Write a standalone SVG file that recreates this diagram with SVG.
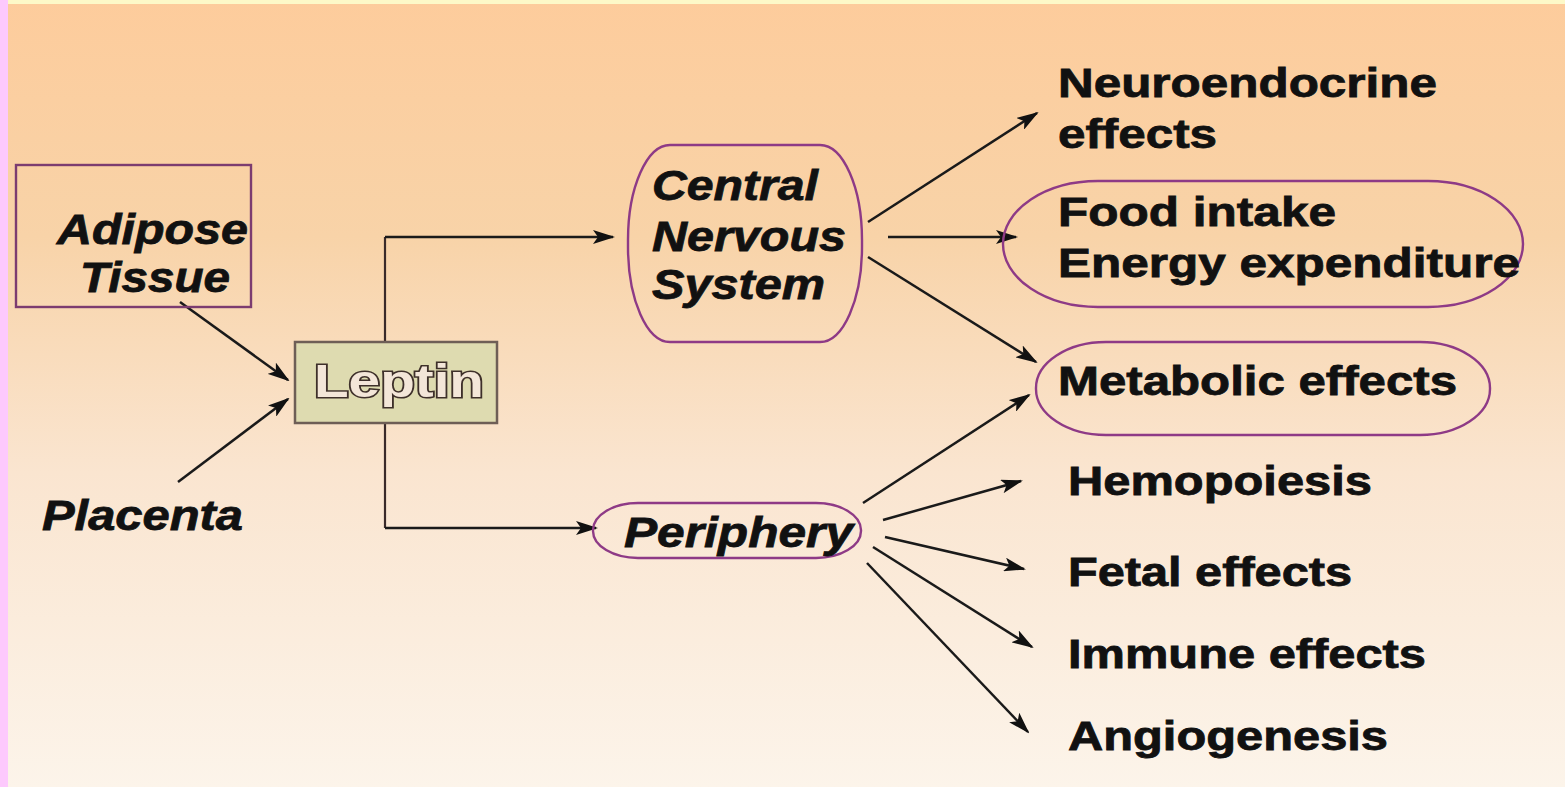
<svg xmlns="http://www.w3.org/2000/svg" width="1565" height="787" viewBox="0 0 1565 787">
<defs>
<linearGradient id="bg" x1="0" y1="0" x2="0" y2="1">
<stop offset="0" stop-color="#fdcc9c"/>
<stop offset="0.3" stop-color="#f8d3a8"/>
<stop offset="0.6" stop-color="#fae5d0"/>
<stop offset="1" stop-color="#fcf4ea"/>
</linearGradient>
<marker id="ah" markerWidth="22" markerHeight="14" refX="20" refY="7" orient="auto" markerUnits="userSpaceOnUse">
<path d="M0,0 L22,7 L0,14 L5,7 Z" fill="#111"/>
</marker>
<style>
.edge{stroke:#1a1a1a;stroke-width:2.5;fill:none;marker-end:url(#ah)}
.line{stroke:#3a2a2a;stroke-width:2.2;fill:none}
.shape{fill:none;stroke:#8e3a86;stroke-width:2.4}
.it{font-family:"Liberation Sans",Arial,sans-serif;font-weight:bold;font-style:italic;fill:#111;stroke:#111;stroke-width:0.8;font-size:42px}
.rt{font-family:"Liberation Sans",Arial,sans-serif;font-weight:bold;fill:#111;stroke:#111;stroke-width:0.8;font-size:40px}
.lep{font-family:"Liberation Sans",Arial,sans-serif;font-weight:bold;fill:#f3e6d8;stroke:#3e302a;stroke-width:3;paint-order:stroke;font-size:46px}
</style>
</defs>
<rect x="0" y="0" width="1565" height="787" fill="url(#bg)"/>
<rect x="0" y="0" width="1565" height="4" fill="#fdf9c8"/>
<rect x="0" y="0" width="8" height="787" fill="#fdc9fd"/>

<g id="connectors">
<path class="edge" d="M180,302 L288,380"/>
<path class="edge" d="M178,482 L288,399"/>
<path class="line" d="M385,341 L385,237"/>
<path class="edge" d="M385,237 L613,237"/>
<path class="line" d="M385,423 L385,528"/>
<path class="edge" d="M385,528 L596,528"/>
<path class="edge" d="M868,222 L1037,113"/>
<path class="edge" d="M888,237 L1016,237"/>
<path class="edge" d="M868,257 L1036,362"/>
<path class="edge" d="M863,503 L1029,395"/>
<path class="edge" d="M883,520 L1021,481"/>
<path class="edge" d="M885,537 L1024,569"/>
<path class="edge" d="M873,547 L1032,647"/>
<path class="edge" d="M867,563 L1028,732"/>
</g>

<g id="adipose">
<rect x="16" y="165" width="235" height="142" fill="none" stroke="#7c3c70" stroke-width="2.4"/>
<text class="it" x="57" y="244" textLength="191" lengthAdjust="spacingAndGlyphs">Adipose</text>
<text class="it" x="80" y="292" textLength="150" lengthAdjust="spacingAndGlyphs">Tissue</text>
</g>

<g id="placenta">
<text class="it" x="42" y="530" textLength="201" lengthAdjust="spacingAndGlyphs">Placenta</text>
</g>

<g id="leptin">
<rect x="295" y="342" width="202" height="81" fill="#dedbb0" stroke="#6e5e56" stroke-width="2.5"/>
<text class="lep" x="314" y="397" textLength="170" lengthAdjust="spacingAndGlyphs">Leptin</text>
</g>

<g id="cns">
<rect x="628" y="145" width="234" height="197" rx="42" ry="95" class="shape"/>
<text class="it" x="652" y="200" textLength="166" lengthAdjust="spacingAndGlyphs">Central</text>
<text class="it" x="652" y="251" textLength="194" lengthAdjust="spacingAndGlyphs">Nervous</text>
<text class="it" x="652" y="299" textLength="173" lengthAdjust="spacingAndGlyphs">System</text>
</g>

<g id="periphery">
<rect x="593" y="503" width="268" height="55" rx="45" ry="27" class="shape"/>
<text class="it" x="624" y="547" textLength="229" lengthAdjust="spacingAndGlyphs">Periphery</text>
</g>

<g id="neuroendocrine">
<text class="rt" x="1058" y="97" textLength="379" lengthAdjust="spacingAndGlyphs">Neuroendocrine</text>
<text class="rt" x="1058" y="148" textLength="159" lengthAdjust="spacingAndGlyphs">effects</text>
</g>

<g id="food">
<rect x="1003" y="181" width="520" height="126" rx="95" ry="63" class="shape"/>
<text class="rt" x="1058" y="226" textLength="278" lengthAdjust="spacingAndGlyphs">Food intake</text>
<text class="rt" x="1058" y="277" textLength="462" lengthAdjust="spacingAndGlyphs">Energy expenditure</text>
</g>

<g id="metabolic">
<rect x="1036" y="342" width="454" height="93" rx="70" ry="46" class="shape"/>
<text class="rt" x="1058" y="395" textLength="399" lengthAdjust="spacingAndGlyphs">Metabolic effects</text>
</g>

<g id="hemopoiesis">
<text class="rt" x="1068" y="495" textLength="304" lengthAdjust="spacingAndGlyphs">Hemopoiesis</text>
</g>
<g id="fetal">
<text class="rt" x="1068" y="586" textLength="284" lengthAdjust="spacingAndGlyphs">Fetal effects</text>
</g>
<g id="immune">
<text class="rt" x="1068" y="668" textLength="358" lengthAdjust="spacingAndGlyphs">Immune effects</text>
</g>
<g id="angiogenesis">
<text class="rt" x="1068" y="750" textLength="320" lengthAdjust="spacingAndGlyphs">Angiogenesis</text>
</g>
</svg>
